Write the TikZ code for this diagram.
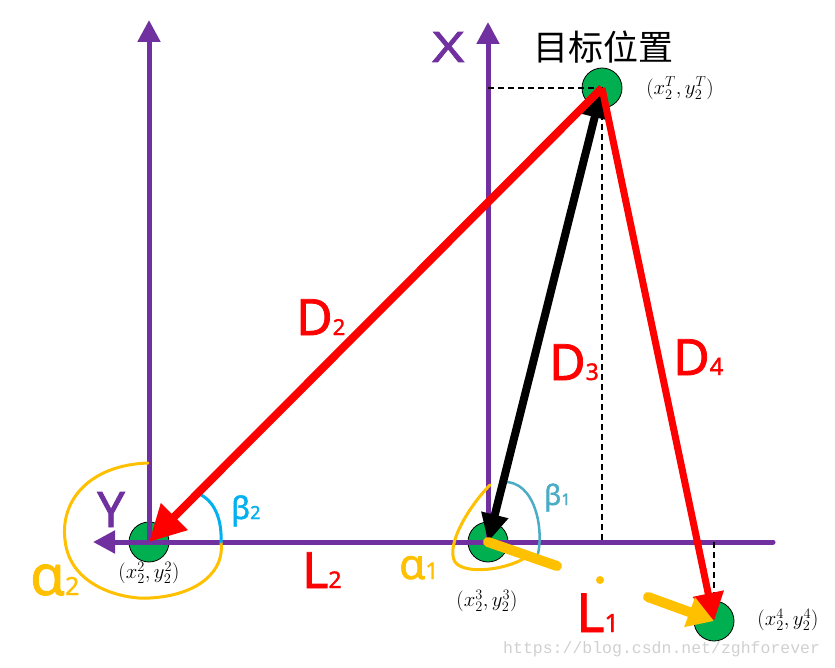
\documentclass[tikz,border=0pt]{standalone}
\usepackage{fontspec}
\setmainfont[FakeBold=1.5]{Noto Sans}
\newfontfamily\cjkfont{Noto Sans CJK SC}
\newfontfamily\wmfont{Liberation Mono}
\usetikzlibrary{arrows.meta}
\definecolor{axpurple}{HTML}{7030A0}
\definecolor{ptgreen}{HTML}{00B050}
\definecolor{ared}{HTML}{FF0000}
\definecolor{ayellow}{HTML}{FFC000}
\definecolor{bcyan}{HTML}{00B0F0}
\definecolor{bsteel}{HTML}{4BACC6}
\definecolor{wmgray}{HTML}{D0D0D0}
\newcommand\sublab[4]{{\fontsize{#1pt}{#1pt}\selectfont #2}{\fontsize{#3pt}{#3pt}\selectfont #4}}
\tikzset{
  pt/.style={circle, minimum size=40pt, inner sep=0pt, fill=ptgreen, draw=black, line width=0.8pt},
  axis/.style={draw=axpurple, line width=5pt, -{Triangle[length=22pt,width=22pt]}},
  axisplain/.style={draw=axpurple, line width=5pt, line cap=round},
  guide/.style={draw=black, line width=1.2pt, dash pattern=on 6pt off 4pt},
  redarrow/.style={draw=ared, line width=8pt, -{Triangle[length=36pt,width=36pt]}},
  redarrowb/.style={draw=ared, line width=7pt, -{Triangle[length=28pt,width=30pt]}},
  blackarrow/.style={draw=black, line width=8pt, {Triangle[length=30pt,width=24pt]}-{Triangle[length=28pt,width=26pt]}},
  yelarrow/.style={draw=ayellow, line width=10pt, line cap=round, -{Triangle[length=26pt,width=30pt]}},
  yelstub/.style={draw=ayellow, line width=10pt, line cap=round},
  anglearc/.style={line width=3pt, line cap=round},
  big/.style={anchor=base west, inner sep=0pt},
  coord/.style={inner sep=0pt, font=\fontsize{22pt}{22pt}\selectfont},
}
\begin{document}
\begin{tikzpicture}[x=1pt,y=-1pt]
\useasboundingbox (0,0) rectangle (835,668);
% points
\node[pt] (T)  at (602,88) {};
\node[pt] (N2) at (149,542) {};
\node[pt] (N3) at (488,542) {};
\node[pt] (N4) at (714,621) {};
% axes
\coordinate (A1top) at (149,20);
\coordinate (A2top) at (488,22);
\coordinate (Hleft) at (93,542);
\coordinate (Hright) at (773,542);
\draw[axis] (N2.center) -- (A1top);
\draw[axis] (N3.center) -- (A2top);
\draw[axis] (N2.center) -- (Hleft);
\draw[axisplain] (N2.center) -- (Hright);
% guides
\coordinate (G1) at (488,88);
\coordinate (G2) at (602,542);
\coordinate (G3) at (714,542);
\draw[guide] (G1) -- (T.center) -- (G2);
\draw[guide] (G3) -- (N4.center);
% angle arcs
\draw[anglearc, ayellow] (148,463) .. controls (90,465) and (60,500) .. (65,540)
   .. controls (70,590) and (130,600) .. (150,598)
   .. controls (200,595) and (225,570) .. (221,542);
\draw[anglearc, bcyan] (197,493) .. controls (215,500) and (222,520) .. (221,542);
\draw[anglearc, ayellow] (490,485) .. controls (470,505) and (445,545) .. (455,562)
   .. controls (465,575) and (505,570) .. (525,558);
\draw[anglearc, bsteel, line width=2.5pt] (503,482) .. controls (535,480) and (545,530) .. (537,558);
% arrows
\draw[blackarrow] (T.center) -- (N3.center);
\draw[redarrow] (T.center) -- (N2.center);
\draw[redarrowb] (T.center) -- (N4.center);
\coordinate (Ytail) at (648,597);
\draw[yelarrow] (Ytail) -- (N4.center);
\coordinate (Stub) at (557,566);
\draw[yelstub] (N3.center) -- (Stub);
\fill[ayellow] (600,580) circle (4pt);
% labels
\node[big, text=axpurple, xscale=1.3] (lx) at (432,62) {\fontsize{42pt}{42pt}\selectfont X};
\node[big, text=axpurple] (ly) at (97,527) {\fontsize{49pt}{49pt}\selectfont Y};
\node (lt) at (603,47) {\cjkfont\fontsize{35pt}{35pt}\selectfont 目标位置};
\node[coord] (cT) at (680,88) {$(x_2^T,y_2^T)$};
\node[coord] (c2) at (149,573) {$(x_2^2,y_2^2)$};
\node[coord] (c3) at (487,601) {$(x_2^3,y_2^3)$};
\node[coord] (c4) at (788,620) {$(x_2^4,y_2^4)$};
\node[big, text=ared] (lD2) at (296,335) {\sublab{50}{D}{22}{2}};
\node[big, text=ared] (lD3) at (549,380) {\sublab{50}{D}{23}{3}};
\node[big, text=ared] (lD4) at (673,375) {\sublab{50}{D}{24}{4}};
\node[big, text=ared] (lL2) at (302,588) {\sublab{50}{L}{23}{2}};
\node[big, text=ared] (lL1) at (576,632) {\sublab{54}{L}{25}{1}};
\node[big, text=ayellow] (la2) at (30,595) {\sublab{56}{α}{25}{2}};
\node[big, text=ayellow] (la1) at (399,579) {\sublab{42}{α}{23}{1}};
\node[big, text=bcyan] (lb2) at (231,519) {\sublab{31}{β}{18}{2}};
\node[big, text=bsteel] (lb1) at (544,505) {\sublab{28}{β}{16}{1}};
\node[big, text=wmgray] (wm) at (503,653) {\wmfont\fontsize{16.5pt}{16.5pt}\selectfont https://blog.csdn.net/zghforever};
\end{tikzpicture}
\end{document}
